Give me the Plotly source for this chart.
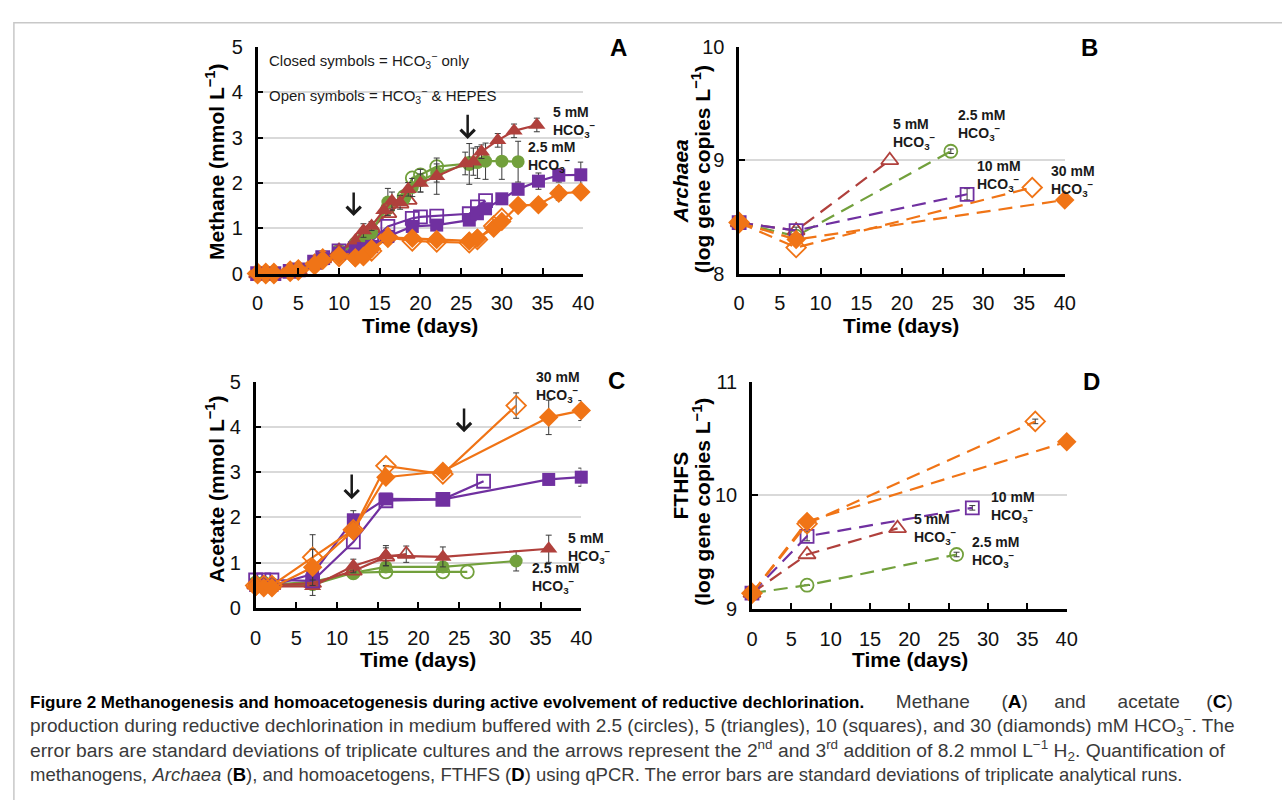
import plotly.graph_objects as go

W, H = 1282, 800

# ---------------- colours ----------------
C25 = "#72A03C"   # 2.5 mM
C5 = "#B0403C"    # 5 mM
C10 = "#7030A0"   # 10 mM
C30 = "#F07416"   # 30 mM

# ---------------- Panel A : methane ----------------
A_t_30c = [0, 1, 2, 4, 5, 7, 8, 10, 12, 13, 14, 16, 19, 22, 26, 27, 29, 30, 32, 34.5, 37, 39.7]
A_v_30c = [0, 0, 0, 0.05, 0.08, 0.2, 0.3, 0.4, 0.35, 0.38, 0.55, 0.8, 0.78, 0.75, 0.72, 0.78, 1.0, 1.15, 1.5, 1.52, 1.77, 1.8]
A_e_30c = [0, 0, 0, 0, 0, 0, 0, 0, 0, 0, 0, 0, 0, 0, 0, 0, 0, 0, 0, 0.12, 0.15, 0.12]
A_t_30o = [0, 1, 2, 4, 5, 7, 8, 10, 12, 13, 14, 16, 19, 22, 26, 27, 29, 30]
A_v_30o = [0, 0, 0, 0.05, 0.08, 0.2, 0.32, 0.38, 0.38, 0.4, 0.5, 0.8, 0.72, 0.7, 0.68, 0.75, 1.05, 1.22]
A_t_10c = [0, 1, 2, 4, 5, 7, 8, 10, 12, 13, 14, 16, 19, 22, 26, 27, 28, 30, 32, 34.5, 37, 39.7]
A_v_10c = [0, 0, 0, 0.05, 0.08, 0.25, 0.33, 0.45, 0.5, 0.55, 0.6, 0.82, 1.04, 1.07, 1.18, 1.32, 1.43, 1.65, 1.86, 2.04, 2.17, 2.18]
A_e_10c = [0, 0, 0, 0, 0, 0, 0, 0.1, 0, 0, 0, 0, 0, 0, 0, 0, 0, 0.1, 0, 0.18, 0.15, 0.28]
A_t_10o = [0, 1, 2, 4, 5, 7, 8, 10, 12, 13, 14, 16, 19, 20, 22, 26, 27, 28]
A_v_10o = [0, 0, 0, 0.05, 0.08, 0.25, 0.35, 0.5, 0.55, 0.6, 0.72, 1.04, 1.22, 1.25, 1.27, 1.32, 1.47, 1.61]
A_t_25c = [0, 1, 2, 4, 5, 7, 8, 10, 12, 13, 14, 16, 18, 19, 20, 22, 26, 27, 28, 30, 32]
A_v_25c = [0, 0, 0, 0.05, 0.08, 0.25, 0.33, 0.45, 0.65, 0.75, 0.9, 1.58, 1.65, 1.9, 2.05, 2.22, 2.42, 2.45, 2.48, 2.48, 2.47]
A_e_25c = [0, 0, 0, 0, 0, 0, 0, 0, 0, 0, 0, 0.3, 0, 0.2, 0.25, 0.2, 0.45, 0.35, 0.4, 0.4, 0.45]
A_t_25o = [0, 1, 2, 4, 5, 7, 8, 10, 12, 13, 14, 16, 18, 19, 20, 22, 26]
A_v_25o = [0, 0, 0, 0.05, 0.08, 0.25, 0.35, 0.5, 0.65, 0.75, 0.95, 1.45, 1.7, 2.11, 2.18, 2.36, 2.43]
A_t_5c = [0, 1, 2, 4, 5, 7, 8, 10, 12, 13, 14, 15.5, 16.5, 17.5, 18.5, 20, 22, 25.5, 26.5, 27.5, 29.5, 31.5, 34.3]
A_v_5c = [0, 0, 0, 0.05, 0.08, 0.25, 0.33, 0.5, 0.7, 0.95, 1.05, 1.4, 1.6, 1.57, 1.86, 2.0, 2.15, 2.43, 2.47, 2.69, 2.94, 3.15, 3.28]
A_e_5c = [0, 0, 0, 0, 0, 0, 0, 0, 0, 0.15, 0.1, 0, 0.2, 0.15, 0.15, 0.2, 0.4, 0.25, 0.3, 0.15, 0.15, 0.15, 0.15]
A_t_5o = [0, 1, 2, 4, 5, 7, 8, 10, 12, 13, 14, 16, 17.5, 18.5]
A_v_5o = [0, 0, 0, 0.05, 0.08, 0.25, 0.33, 0.5, 0.7, 0.9, 1.0, 1.33, 1.54, 1.62]

# ---------------- Panel B : Archaea ----------------
B_t_25o = [0, 7, 26]
B_v_25o = [8.45, 8.33, 9.08]
B_e_25o = [0, 0, 0.02]
B_t_5o = [0, 7, 18.5]
B_v_5o = [8.45, 8.38, 9.0]
B_t_10o = [0, 7, 28]
B_v_10o = [8.45, 8.38, 8.70]
B_e_10o = [0, 0.03, 0.05]
B_t_30o = [0, 7, 36]
B_v_30o = [8.45, 8.23, 8.76]
B_t_30c = [0, 7, 40]
B_v_30c = [8.45, 8.30, 8.65]

# ---------------- Panel C : acetate ----------------
C_t_30o = [0, 1, 2, 7, 12, 16, 23, 32]
C_v_30o = [0.5, 0.5, 0.5, 1.12, 1.73, 3.14, 2.96, 4.47]
C_e_30o = [0, 0, 0, 0.5, 0, 0, 0, 0.28]
C_t_30c = [0, 1, 2, 7, 12, 16, 23, 36, 40]
C_v_30c = [0.47, 0.45, 0.45, 0.9, 1.71, 2.89, 3.02, 4.21, 4.36]
C_e_30c = [0, 0, 0, 0.4, 0, 0, 0.1, 0.38, 0.22]
C_t_10c = [0, 1, 2, 7, 12, 16, 23, 36, 40]
C_v_10c = [0.5, 0.5, 0.5, 0.75, 1.95, 2.41, 2.4, 2.84, 2.89]
C_e_10c = [0, 0, 0, 0, 0.2, 0, 0, 0.12, 0.2]
C_t_10o = [0, 1, 2, 7, 12, 16, 23, 28]
C_v_10o = [0.62, 0.62, 0.62, 0.6, 1.46, 2.37, 2.4, 2.8]
C_t_5c = [0, 1, 2, 7, 12, 16, 23, 36]
C_v_5c = [0.5, 0.5, 0.48, 0.48, 0.93, 1.16, 1.13, 1.31]
C_e_5c = [0, 0, 0, 0.2, 0.15, 0.22, 0.22, 0.3]
C_t_5o = [0, 1, 2, 7, 12, 16, 18.5]
C_v_5o = [0.52, 0.5, 0.5, 0.55, 0.82, 1.13, 1.19]
C_e_5o = [0, 0, 0, 0, 0, 0.2, 0.18]
C_t_25c = [0, 1, 2, 7, 12, 16, 23, 32]
C_v_25c = [0.5, 0.5, 0.48, 0.52, 0.78, 0.91, 0.91, 1.04]
C_e_25c = [0, 0, 0, 0, 0, 0, 0, 0.22]
C_t_25o = [0, 1, 2, 7, 12, 16, 23, 26]
C_v_25o = [0.55, 0.55, 0.52, 0.58, 0.78, 0.8, 0.8, 0.8]

# ---------------- Panel D : FTHFS ----------------
D_t_25o = [0, 7, 26]
D_v_25o = [9.14, 9.21, 9.48]
D_e_25o = [0, 0, 0.02]
D_t_5o = [0, 7, 18.5]
D_v_5o = [9.14, 9.48, 9.71]
D_t_10o = [0, 7, 28]
D_v_10o = [9.14, 9.64, 9.89]
D_e_10o = [0, 0.04, 0.02]
D_t_30o = [0, 7, 36]
D_v_30o = [9.14, 9.75, 10.65]
D_e_30o = [0, 0, 0.02]
D_t_30c = [0, 7, 40]
D_v_30c = [9.14, 9.77, 10.47]

x_ticks = [0, 5, 10, 15, 20, 25, 30, 35, 40]

FONT = "Liberation Sans, Arial, sans-serif"
fig = go.Figure()


def px_x(p):
    return p / W


def px_y(p):
    return 1 - p / H


SZ = {"circle": 13, "square": 13, "triangle-up": 15, "diamond": 15}


def add(t, v, color, symbol, filled, xa, ya, err=None, dash="solid", lw=2.2):
    base = (symbol[-1] if isinstance(symbol, list) else symbol).replace("-open", "")
    mk = dict(symbol=symbol, size=SZ[base], color=color,
              line=dict(color=color, width=0 if filled else 1.8))
    tr = go.Scatter(x=t, y=v, mode="lines+markers", xaxis=xa, yaxis=ya,
                    line=dict(color=color, width=lw, dash=dash),
                    marker=mk, cliponaxis=False, hoverinfo="skip")
    if err is not None:
        tr.error_y = dict(type="data", array=err, color="#3a3a3a", thickness=1, width=3)
    fig.add_trace(tr)


# Panel A (x, y)
add(A_t_25o, A_v_25o, C25, "circle-open", False, "x", "y")
add(A_t_5o, A_v_5o, C5, "triangle-up-open", False, "x", "y")
add(A_t_10o, A_v_10o, C10, "square-open", False, "x", "y")
add(A_t_30o, A_v_30o, C30, "diamond-open", False, "x", "y")
add(A_t_25c, A_v_25c, C25, "circle", True, "x", "y", A_e_25c)
add(A_t_5c, A_v_5c, C5, "triangle-up", True, "x", "y", A_e_5c)
add(A_t_10c, A_v_10c, C10, "square", True, "x", "y", A_e_10c)
add(A_t_30c, A_v_30c, C30, "diamond", True, "x", "y", A_e_30c)

# Panel B (x2, y2)
DASH = "14px,8px"
add(B_t_25o, B_v_25o, C25, "circle-open", False, "x2", "y2", B_e_25o, dash=DASH)
add(B_t_5o, B_v_5o, C5, "triangle-up-open", False, "x2", "y2", dash=DASH)
add(B_t_10o, B_v_10o, C10, ["square", "square-open", "square-open"], False, "x2", "y2", B_e_10o, dash=DASH)
add(B_t_30o, B_v_30o, C30, "diamond-open", False, "x2", "y2", dash=DASH)
add(B_t_30c, B_v_30c, C30, "diamond", True, "x2", "y2", dash=DASH)

# Panel C (x3, y3)
add(C_t_25o, C_v_25o, C25, "circle-open", False, "x3", "y3")
add(C_t_25c, C_v_25c, C25, "circle", True, "x3", "y3", C_e_25c)
add(C_t_5o, C_v_5o, C5, "triangle-up-open", False, "x3", "y3", C_e_5o)
add(C_t_5c, C_v_5c, C5, "triangle-up", True, "x3", "y3", C_e_5c)
add(C_t_10o, C_v_10o, C10, "square-open", False, "x3", "y3")
add(C_t_10c, C_v_10c, C10, "square", True, "x3", "y3", C_e_10c)
add(C_t_30o, C_v_30o, C30, "diamond-open", False, "x3", "y3", C_e_30o)
add(C_t_30c, C_v_30c, C30, "diamond", True, "x3", "y3", C_e_30c)

# Panel D (x4, y4)
add(D_t_25o, D_v_25o, C25, "circle-open", False, "x4", "y4", D_e_25o, dash=DASH)
add(D_t_5o, D_v_5o, C5, "triangle-up-open", False, "x4", "y4", dash=DASH)
add(D_t_10o, D_v_10o, C10, ["square", "square-open", "square-open"], False, "x4", "y4", D_e_10o, dash=DASH)
add(D_t_30o, D_v_30o, C30, "diamond-open", False, "x4", "y4", D_e_30o, dash=DASH)
add(D_t_30c, D_v_30c, C30, "diamond", True, "x4", "y4", dash=DASH)

tickfont = dict(family=FONT, size=20, color="#111")


def xax(domain, anchor):
    return dict(domain=domain, anchor=anchor, range=[0, 40], tickvals=x_ticks,
                showline=True, linecolor="black", linewidth=2.5, ticks="inside",
                ticklen=6, tickwidth=2, tickcolor="black", showgrid=False,
                zeroline=False, tickfont=tickfont, ticklabelstandoff=10)


def yax(domain, anchor, rng, dtick):
    return dict(domain=domain, anchor=anchor, range=rng, dtick=dtick,
                showline=True, linecolor="black", linewidth=2.5, ticks="inside",
                ticklen=6, tickwidth=2, tickcolor="black", showgrid=True,
                gridcolor="#D9D9D9", gridwidth=2, zeroline=False, tickfont=tickfont,
                ticklabelstandoff=8)


yA = [px_y(270), px_y(37)]
yC = [px_y(614), px_y(381)]
yD = [px_y(615), px_y(381)]
fig.update_layout(
    width=W, height=H, margin=dict(l=0, r=0, t=0, b=0),
    paper_bgcolor="white", plot_bgcolor="white", showlegend=False,
    xaxis=xax([px_x(255), px_x(585)], "y"),
    yaxis=yax(yA, "x", [0, 5.001], 1),
    xaxis2=xax([px_x(743), px_x(1073)], "y2"),
    yaxis2=yax(yA, "x2", [8, 10.0005], 1),
    xaxis3=xax([px_x(253), px_x(583)], "y3"),
    yaxis3=yax(yC, "x3", [0, 5.001], 1),
    xaxis4=xax([px_x(756), px_x(1075)], "y4"),
    yaxis4=yax(yD, "x4", [9, 11.0005], 1),
)

ann = []
HCO = "HCO<sub>3</sub><sup>−</sup>"


def lab(text, x, y, xr, yr):
    ann.append(dict(text=f"<b>{text}<br>{HCO}</b>", x=x, y=y, xref=xr, yref=yr,
                    xanchor="left", yanchor="middle", align="left", showarrow=False,
                    font=dict(family=FONT, size=14, color="#1a1a1a")))


# series labels
lab("5 mM", 36.1, 3.35, "x", "y")
lab("2.5 mM", 33.0, 2.58, "x", "y")
lab("10 mM", 40.5, 2.32, "x", "y")
lab("30 mM", 40.5, 1.61, "x", "y")
lab("5 mM", 18.7, 9.23, "x2", "y2")
lab("2.5 mM", 26.7, 9.31, "x2", "y2")
lab("10 mM", 29.0, 8.86, "x2", "y2")
lab("30 mM", 38.1, 8.82, "x2", "y2")
lab("30 mM", 34.2, 4.89, "x3", "y3")
lab("10 mM", 40.8, 2.94, "x3", "y3")
lab("5 mM", 38.1, 1.33, "x3", "y3")
lab("2.5 mM", 33.7, 0.67, "x3", "y3")
lab("30 mM", 41.9, 10.70, "x4", "y4")
lab("10 mM", 30.1, 9.90, "x4", "y4")
lab("5 mM", 20.3, 9.70, "x4", "y4")
lab("2.5 mM", 27.7, 9.50, "x4", "y4")


# arrows (H2 additions)
def arrow(x, ytop, ytip, xr, yr):
    ann.append(dict(x=x, y=ytip, ax=x, ay=ytop, xref=xr, yref=yr, axref=xr, ayref=yr,
                    text="", showarrow=True, arrowhead=4, arrowsize=1.1, arrowwidth=2.5,
                    arrowcolor="#1a1a1a"))


arrow(11.8, 1.82, 1.27, "x", "y")
arrow(25.8, 3.54, 2.97, "x", "y")
arrow(11.8, 2.98, 2.4, "x3", "y3")
arrow(25.6, 4.44, 3.88, "x3", "y3")

# legend text in A
for txt, py in [(f"Closed symbols = {HCO} only", 51), (f"Open symbols = {HCO} &amp; HEPES", 87)]:
    ann.append(dict(text=txt, x=px_x(265), y=px_y(py), xref="paper", yref="paper",
                    xanchor="left", yanchor="middle", showarrow=False,
                    font=dict(family=FONT, size=15, color="#1a1a1a")))

# panel letters
for L, px, py in [("A", 621, 38), ("B", 1098, 38), ("C", 619, 380), ("D", 1100, 381)]:
    ann.append(dict(text=f"<b>{L}</b>", x=px_x(px), y=px_y(py), xref="paper", yref="paper",
                    xanchor="center", yanchor="middle", showarrow=False,
                    font=dict(family=FONT, size=24, color="black")))

# axis titles
tfont = dict(family=FONT, size=21, color="black")
for px, py in [(420, 323), (907, 323), (418, 667), (916, 667)]:
    ann.append(dict(text="<b>Time (days)</b>", x=px_x(px), y=px_y(py), xref="paper", yref="paper",
                    xanchor="center", yanchor="middle", showarrow=False, font=tfont))
for txt, px, py in [("<b>Methane (mmol L<sup>−1</sup>)</b>", 212, 155),
                    ("<b>Acetate (mmol L<sup>−1</sup>)</b>", 212, 492),
                    ("<b><i>Archaea</i></b>", 683, 175),
                    ("<b>(log gene copies L<sup>−1</sup>)</b>", 704, 163),
                    ("<b>FTHFS</b>", 684, 488),
                    ("<b>(log gene copies L<sup>−1</sup>)</b>", 705, 505)]:
    ann.append(dict(text=txt, x=px_x(px), y=px_y(py), xref="paper", yref="paper",
                    xanchor="center", yanchor="middle", textangle=-90, showarrow=False,
                    font=tfont))

# caption (justified lines are widened with non-breaking spaces)
NB = "\u00a0"
B_ = "<span style='color:#000;font-size:17px'><b>{}</b></span>"
b_ = "<span style='color:#000'><b>{}</b></span>"
cap = [
    (B_.format("Figure 2 Methanogenesis and homoacetogenesis during active evolvement of reductive dechlorination.")
     + NB * 5 + " Methane" + NB * 5 + " (" + b_.format("A") + ")" + NB * 4 + " and" + NB * 5 + " acetate"
     + NB * 4 + " (" + b_.format("C") + ")", 710, 19.0),
    ("production during reductive dechlorination in medium buffered with 2.5 (circles), 5 (triangles), "
     "10 (squares), and 30 (diamonds) mM HCO<sub>3</sub><sup>−</sup>. The", 735, 19.05),
    ("error bars are standard deviations of triplicate cultures and the arrows represent the 2<sup>nd</sup> "
     "and 3<sup>rd</sup> addition of 8.2 mmol L<sup>−1</sup> H<sub>2</sub>. Quantification of", 760, 19.25),
    ("methanogens, <i>Archaea</i> (" + b_.format("B") + "), and homoacetogens, FTHFS (" + b_.format("D")
     + ") using qPCR. The error bars are standard deviations of triplicate analytical runs.", 785, 18.5),
]
for txt, py, fs in cap:
    ann.append(dict(text=txt, x=px_x(22), y=px_y(py), xref="paper", yref="paper",
                    xanchor="left", yanchor="middle", showarrow=False,
                    font=dict(family=FONT, size=fs, color="#3a3a3a")))

fig.update_layout(annotations=ann)

# frame border
fig.add_shape(type="rect", xref="paper", yref="paper", x0=px_x(8), y0=px_y(812),
              x1=px_x(1300), y1=px_y(12), line=dict(color="#C8C8C8", width=1.5))

fig.write_html("out.html", config={"displayModeBar": False})

# remove the default page margin so the 1282x800 figure fills the window exactly
with open("out.html", encoding="utf-8") as f:
    html = f.read()
html = html.replace("<head>", "<head><style>html,body{margin:0;padding:0;overflow:hidden;}</style>", 1)
with open("out.html", "w", encoding="utf-8") as f:
    f.write(html)
